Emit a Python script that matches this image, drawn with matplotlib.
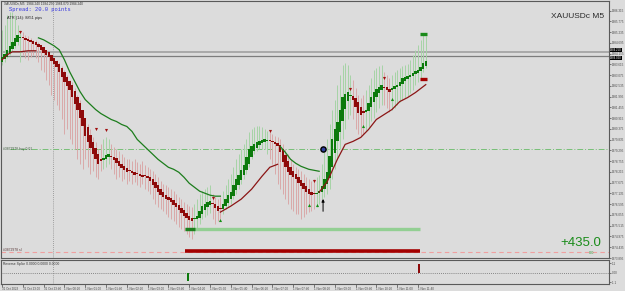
import numpy as np
import matplotlib
matplotlib.use("Agg")
import matplotlib.pyplot as plt
from matplotlib.transforms import blended_transform_factory

plt.rcParams["font.family"] = ["Liberation Sans", "DejaVu Sans"]

# ---- data (XAUUSDc M5, bar index 0 = 31 Oct 22:20) ----
open0 = 1983.75
closes = [1984.00, 1984.15, 1984.35, 1984.55, 1984.75, 1984.95, 1985.10, 1985.00, 1984.95, 1984.85,
          1984.80, 1984.75, 1984.65, 1984.60, 1984.50, 1984.35, 1984.20, 1984.10, 1984.00, 1983.80,
          1983.65, 1983.50, 1983.25, 1983.00, 1982.75, 1982.55, 1982.35, 1982.00, 1981.65, 1981.35,
          1980.95, 1980.50, 1980.00, 1979.70, 1979.40, 1979.10, 1978.85, 1978.60, 1978.75, 1978.90,
          1979.05, 1979.10, 1978.95, 1978.80, 1978.65, 1978.50, 1978.40, 1978.30, 1978.20, 1978.25,
          1978.15, 1978.05, 1978.10, 1978.00, 1977.95, 1978.00, 1977.90, 1977.75, 1977.55, 1977.40,
          1977.20, 1977.05, 1976.95, 1976.85, 1976.80, 1976.70, 1976.55, 1976.45, 1976.30, 1976.15,
          1976.00, 1975.90, 1975.80, 1975.75, 1975.85, 1976.00, 1976.25, 1976.50, 1976.60, 1976.70,
          1976.75, 1976.60, 1976.40, 1976.25, 1976.35, 1976.60, 1976.85, 1977.05, 1977.20, 1977.55,
          1977.85, 1978.05, 1978.30, 1978.55, 1978.95, 1979.35, 1979.50, 1979.60, 1979.70, 1979.75,
          1979.80, 1979.85, 1979.80, 1979.75, 1979.70, 1979.60, 1979.50, 1979.20, 1978.70, 1978.45,
          1978.20, 1978.05, 1977.95, 1977.85, 1977.65, 1977.50, 1977.35, 1977.20, 1977.10, 1977.05,
          1977.10, 1977.15, 1977.25, 1977.50, 1977.85, 1978.20, 1979.00, 1979.85, 1980.35, 1980.70,
          1981.35, 1982.00, 1982.15, 1982.25, 1982.05, 1981.85, 1981.50, 1981.20, 1981.10, 1981.20,
          1981.35, 1981.70, 1982.00, 1982.25, 1982.40, 1982.50, 1982.60, 1982.45, 1982.35, 1982.25,
          1982.45, 1982.55, 1982.60, 1982.75, 1982.95, 1983.00, 1983.05, 1983.10, 1983.20, 1983.30,
          1983.35, 1983.50, 1983.70, 1983.80]
highs = [1985.35, 1985.60, 1986.10, 1986.25, 1986.25, 1986.10, 1985.60,
         1985.35, 1985.25, 1985.10, 1985.05, 1984.95, 1984.85, 1984.85, 1984.75, 1984.60, 1984.45,
         1984.35, 1984.25, 1984.10, 1983.95, 1983.85, 1983.75, 1983.55, 1983.35, 1983.10, 1982.85,
         1982.75, 1982.45, 1982.10, 1981.85, 1981.35, 1980.95, 1980.60, 1980.35, 1979.95, 1979.70, 1979.35,
         1979.60, 1979.85, 1979.95, 1979.85,
         1979.60, 1979.45, 1979.35, 1979.25, 1979.10, 1978.95, 1978.85,
         1978.85, 1978.75, 1978.85, 1978.70, 1978.60, 1978.75, 1978.55, 1978.45,
         1978.35, 1978.25, 1978.10, 1977.95, 1977.75, 1977.60, 1977.55, 1977.45, 1977.35, 1977.25,
         1977.10, 1976.95, 1976.85, 1976.70, 1976.60, 1976.50, 1976.45,
         1976.60, 1976.85, 1977.10, 1977.25, 1977.35, 1977.45, 1977.55,
         1977.10, 1976.95, 1976.85,
         1976.95, 1977.25, 1977.55, 1977.85, 1978.10, 1978.45, 1978.85, 1979.10, 1979.35, 1979.60,
         1979.85, 1980.20, 1980.35, 1980.45, 1980.50, 1980.50, 1980.45, 1980.35,
         1980.25, 1980.20, 1980.10, 1980.00, 1979.95, 1979.85, 1979.60, 1979.35, 1979.10, 1978.85,
         1978.60, 1978.45, 1978.35, 1978.25, 1978.10, 1977.95, 1977.85,
         1977.75, 1977.85, 1977.95, 1978.05,
         1978.60, 1979.35, 1979.85, 1980.60, 1981.35, 1981.85, 1982.60, 1983.10, 1983.60, 1983.70, 1983.60,
         1983.10, 1982.85, 1982.45, 1982.10, 1981.95,
         1982.10, 1982.35, 1982.60, 1982.95, 1983.35, 1983.45, 1983.55, 1983.60,
         1983.25, 1983.10, 1982.95,
         1983.10, 1983.25, 1983.35, 1983.45, 1983.55, 1983.60, 1983.65, 1983.85, 1984.10, 1984.35,
         1984.60, 1984.85, 1985.10, 1985.05]
lows = [1983.60, 1983.75, 1983.95, 1984.10, 1984.25, 1984.45, 1984.60,
        1983.75, 1984.10, 1983.95, 1983.85, 1984.00, 1984.10, 1983.95, 1983.75, 1983.35, 1983.25,
        1982.85, 1982.60, 1982.10, 1981.85, 1981.60, 1981.35, 1980.85, 1980.10, 1980.35, 1979.85,
        1979.60, 1979.35, 1978.85, 1978.60, 1978.35, 1978.85, 1978.45, 1978.10, 1978.25, 1977.95, 1977.85,
        1978.25, 1978.35, 1978.45, 1978.60,
        1978.35, 1978.10, 1977.85, 1977.95, 1977.75, 1977.85, 1977.60,
        1977.75, 1977.60, 1977.70, 1977.55, 1977.45, 1977.60, 1977.35, 1977.25,
        1977.10, 1976.85, 1976.60, 1976.45, 1976.35, 1976.25, 1976.10, 1975.95, 1975.85, 1975.75,
        1975.60, 1975.45, 1975.35, 1975.25, 1975.10, 1974.95, 1974.85,
        1975.10, 1975.35, 1975.60, 1975.85, 1975.95, 1976.05, 1976.15,
        1975.85, 1975.60, 1975.75,
        1975.85, 1976.10, 1976.35, 1976.45, 1976.60, 1976.85, 1977.10, 1977.35, 1977.60, 1977.85,
        1978.10, 1978.45, 1978.85, 1979.10, 1979.25, 1979.35, 1979.35, 1979.35,
        1979.10, 1978.85, 1978.60, 1978.10, 1977.60, 1977.35, 1977.10, 1976.85, 1976.60, 1976.35,
        1976.25, 1976.10, 1976.10, 1975.85, 1975.95, 1976.10, 1976.20,
        1976.25, 1976.35, 1976.45, 1976.60,
        1976.85, 1976.95, 1977.10, 1977.35, 1977.85, 1978.35, 1978.85, 1979.35, 1979.85, 1980.35, 1980.85,
        1981.10, 1980.85, 1980.35, 1980.10, 1980.00,
        1980.10, 1980.25, 1980.45, 1980.75, 1980.95, 1981.25, 1981.45, 1981.60,
        1981.60, 1981.45, 1981.25,
        1981.35, 1981.45, 1981.60, 1981.75, 1981.85, 1981.95, 1982.05, 1982.20, 1982.35, 1982.60,
        1982.75, 1982.95, 1983.25, 1983.45]

# trailing channel line, split into the coloured stretches it is drawn in
red_ma_1_idx = [0, 2, 4, 7, 10, 13]
red_ma_1 = [1983.85, 1984.10, 1984.25, 1984.25, 1984.30, 1984.30]
green_ma_1_idx = list(range(14, 85, 2))
green_ma_1 = [1984.95, 1984.85, 1984.70, 1984.55, 1984.35, 1983.85, 1983.25, 1982.75, 1982.25,
              1981.85, 1981.60, 1981.35, 1981.15, 1981.00, 1980.85, 1980.75, 1980.60, 1980.50,
              1980.25, 1979.85, 1979.60, 1979.35, 1979.10, 1978.85, 1978.65, 1978.45, 1978.35,
              1978.20, 1977.95, 1977.65, 1977.45, 1977.25, 1977.15, 1977.05, 1977.00, 1977.00]
red_ma_2_idx = [84, 88, 92, 96, 100, 103, 106]
red_ma_2 = [1976.20, 1976.50, 1976.85, 1977.35, 1978.00, 1978.45, 1978.60]
green_ma_2_idx = [107, 109, 111, 113, 115, 118, 122]
green_ma_2 = [1979.50, 1979.20, 1978.85, 1978.65, 1978.50, 1978.35, 1978.25]
red_ma_3_idx = [122, 125, 129, 132, 135, 138, 141, 144, 147, 150, 153, 156, 159, 163]
red_ma_3 = [1977.20, 1977.70, 1978.85, 1979.60, 1979.75, 1979.95, 1980.35, 1980.85, 1981.10,
            1981.35, 1981.75, 1981.95, 1982.20, 1982.60]

# signal glyphs
sell_sig_idx = [7, 36, 40, 81, 103, 120, 134, 147]
sell_sig = [1985.25, 1980.35, 1980.30, 1976.90, 1980.25, 1977.75, 1982.40, 1982.95]
buy_sig_idx = [84, 118, 121, 139, 150]
buy_sig = [1975.80, 1976.55, 1976.55, 1980.50, 1981.90]

ask_price = 1984.25
bid_price = 1984.05
buy_price = 1979.35
sl_price = 1974.20
zone_top = 1975.35
zone_bottom = 1974.25
zone_start, zone_end = 70.4, 160.8
last_hi_mark = 1985.15
last_lo_mark = 1982.90
entry_idx = 123.5
separator_idx = 19.6

spike_idx = [71.5, 160.4]
spike_val = [-1.0, 1.0]

time_labels = ["31 Oct 2023", "31 Oct 23:00", "31 Oct 23:40", "1 Nov 00:20", "1 Nov 01:00",
               "1 Nov 01:40", "1 Nov 02:20", "1 Nov 03:00", "1 Nov 03:40", "1 Nov 04:20",
               "1 Nov 05:00", "1 Nov 05:40", "1 Nov 06:20", "1 Nov 07:00", "1 Nov 07:40",
               "1 Nov 08:20", "1 Nov 09:00", "1 Nov 09:40", "1 Nov 10:20", "1 Nov 11:00",
               "1 Nov 11:40"]
price_tick_start = 1986.315
price_tick_step = 0.54

# ---- figure ----
W, H = 625, 291
BG = "#dcdcdc"
fig = plt.figure(figsize=(W / 100, H / 100), dpi=100)
fig.patch.set_facecolor(BG)

def px(x, y):
    return x / W, 1 - y / H

ax = fig.add_axes([1 / W, 1 - 258 / H, 608 / W, 257 / H])
sub = fig.add_axes([1 / W, 1 - 284 / H, 608 / W, 24 / H], sharex=ax)
for a in (ax, sub):
    a.set_facecolor(BG)
    for s in a.spines.values():
        s.set_color("#5a5a5a")
        s.set_linewidth(0.8)

n = len(closes)
idx = np.arange(n)
c = np.array(closes)
# smoothed (heiken-ashi style) body open: midpoint of the previous body
o = np.empty(n)
o[0] = open0
for i in range(1, n):
    o[i] = (o[i - 1] + c[i - 1]) / 2
up = c >= o

hi = np.array(highs)
lo = np.array(lows)
ax.vlines(idx[up], lo[up], hi[up], color="#a6d3a6", lw=0.7, zorder=2)
ax.vlines(idx[~up], lo[~up], hi[~up], color="#d9a9a9", lw=0.7, zorder=2)
body_lo = np.minimum(o, c)
body_h = np.maximum(np.abs(c - o), 0.05)
ax.bar(idx[up], body_h[up], bottom=body_lo[up], width=0.9, color="#0c7a0c", zorder=3, linewidth=0)
ax.bar(idx[~up], body_h[~up], bottom=body_lo[~up], width=0.9, color="#8e0a0a", zorder=3, linewidth=0)

# channel line
ax.plot(red_ma_1_idx, red_ma_1, color="#8b1515", lw=0.9, zorder=4)
ax.plot(green_ma_1_idx, green_ma_1, color="#1c7d1c", lw=0.9, zorder=4)
ax.plot(red_ma_2_idx, red_ma_2, color="#8b1515", lw=0.9, zorder=4)
ax.plot(green_ma_2_idx, green_ma_2, color="#1c7d1c", lw=0.9, zorder=4)
ax.plot(red_ma_3_idx, red_ma_3, color="#8b1515", lw=0.9, zorder=4)

# signals
ax.scatter(sell_sig_idx, sell_sig, marker="v", s=5, color="#a01010", zorder=5, linewidths=0)
ax.scatter(buy_sig_idx, buy_sig, marker="^", s=5, color="#159015", zorder=5, linewidths=0)

# bid / ask lines
ax.axhline(ask_price, color="#a9a9a9", lw=1.4, zorder=1)
ax.axhline(bid_price, color="#7d7d7d", lw=0.9, zorder=1)

# order lines
ax.axhline(buy_price, xmin=0.015, color="#77c077", lw=0.7, ls=(0, (6, 2, 1, 2)), zorder=1)
ax.axhline(sl_price, color="#f0a0a0", lw=0.8, ls=(0, (4, 3)), zorder=1)
ax.text(0.5, buy_price, "#3872978 buy 0.01", fontsize=2.4, color="#3a5a3a", va="center", zorder=6)
ax.text(0.5, sl_price + 0.08, "#3872978 sl", fontsize=2.4, color="#5a3a3a", va="center", zorder=6)

# zone bars
ax.hlines(zone_top, zone_start, zone_end, color="#93cf93", lw=2.4, zorder=3)
ax.hlines(zone_top, zone_start, zone_start + 4, color="#1f7f1f", lw=2.4, zorder=3)
ax.hlines(zone_bottom, zone_start, zone_end, color="#a30000", lw=2.6, zorder=3)

# last bar markers
ax.hlines(last_hi_mark, 160.7, 163.3, color="#1a8a1a", lw=2.4, zorder=5)
ax.hlines(last_lo_mark, 160.7, 163.3, color="#a30000", lw=2.4, zorder=5)

# entry marker and arrow
ax.scatter([entry_idx], [buy_price], s=14, facecolor="#3040a0", edgecolor="black", linewidths=1.0, zorder=7)
ax.annotate("", xy=(entry_idx, 1977.00), xytext=(entry_idx, 1976.10),
            arrowprops=dict(arrowstyle="-|>", color="black", lw=0.7, mutation_scale=4), zorder=7)

# day separator
for a in (ax, sub):
    a.axvline(separator_idx, color="#8a8a8a", lw=0.6, ls=(0, (1, 1.5)), zorder=0)

ax.set_xlim(-0.4, 233.5)
ax.set_ylim(1973.95, 1986.80)

# right price scale
ticks = price_tick_start - price_tick_step * np.arange(24)
ax.yaxis.tick_right()
ax.set_yticks(ticks)
ax.set_yticklabels([f"{t:.3f}" for t in ticks])
ax.tick_params(axis="y", labelsize=2.2, colors="#4a4a4a", length=1.5, width=0.5, pad=0.8)
ax.tick_params(axis="x", bottom=False, labelbottom=False)

# bid / ask price boxes, stacked like the terminal does
trans = blended_transform_factory(ax.transAxes, ax.transData)
ax.text(1.002, ask_price, f"{ask_price:.3f}", transform=trans, fontsize=2.0, color="white",
        va="bottom", ha="left", bbox=dict(boxstyle="square,pad=0.05", fc="black", ec="none"), zorder=8)
ax.text(1.002, bid_price, f"{bid_price:.3f}", transform=trans, fontsize=2.0, color="white",
        va="top", ha="left", bbox=dict(boxstyle="square,pad=0.05", fc="black", ec="none"), zorder=8)

# sub window
sub.bar(spike_idx, spike_val, width=0.9, color=["#0c7a0c", "#8e0a0a"], zorder=3)
sub.axhline(0, color="#6a6a6a", lw=0.6, ls=(0, (1, 1.5)))
sub.set_ylim(-1.3, 1.45)
sub.yaxis.tick_right()
sub.set_yticks([1.1, 0.0, -1.1])
sub.set_yticklabels(["1.1", "0.00", "-1.1"])
sub.tick_params(axis="y", labelsize=2.2, colors="#4a4a4a", length=1.5, width=0.5, pad=0.8)
sub.set_xticks(np.arange(0, 161, 8))
sub.set_xticklabels(time_labels, ha="left")
sub.tick_params(axis="x", labelsize=2.2, colors="#4a4a4a", length=2, width=0.5, pad=0.5)
sub.text(0.004, 0.9, "Reverse Spike 0.0000 0.0000 0.0000", transform=sub.transAxes,
         fontsize=2.4, color="#333333", va="top")

# header texts
fig.text(*px(4, 4), "XAUUSDc,M5  1984.240 1984.250 1984.070 1984.240", fontsize=2.3,
         color="#333333", va="center")
fig.text(*px(9, 10), "Spread: 20.0 points", fontsize=3.9, family="Liberation Mono",
         color="#3535e0", va="center")
fig.text(*px(7, 18), "ATR (14): 8851 pips", fontsize=2.8, color="#222222", va="center")
fig.text(*px(604, 17), "XAUUSDc M5", fontsize=6.0, color="#2a2a2a", ha="right", va="center")
fig.text(*px(601, 243), "+435.0", fontsize=9.5, color="#1a8c1a", ha="right", va="center")
fig.text(*px(592, 253), "0.0", fontsize=2.8, color="#3a9a3a", ha="center", va="center")

fig.savefig("out.png", dpi=100, facecolor=BG)
